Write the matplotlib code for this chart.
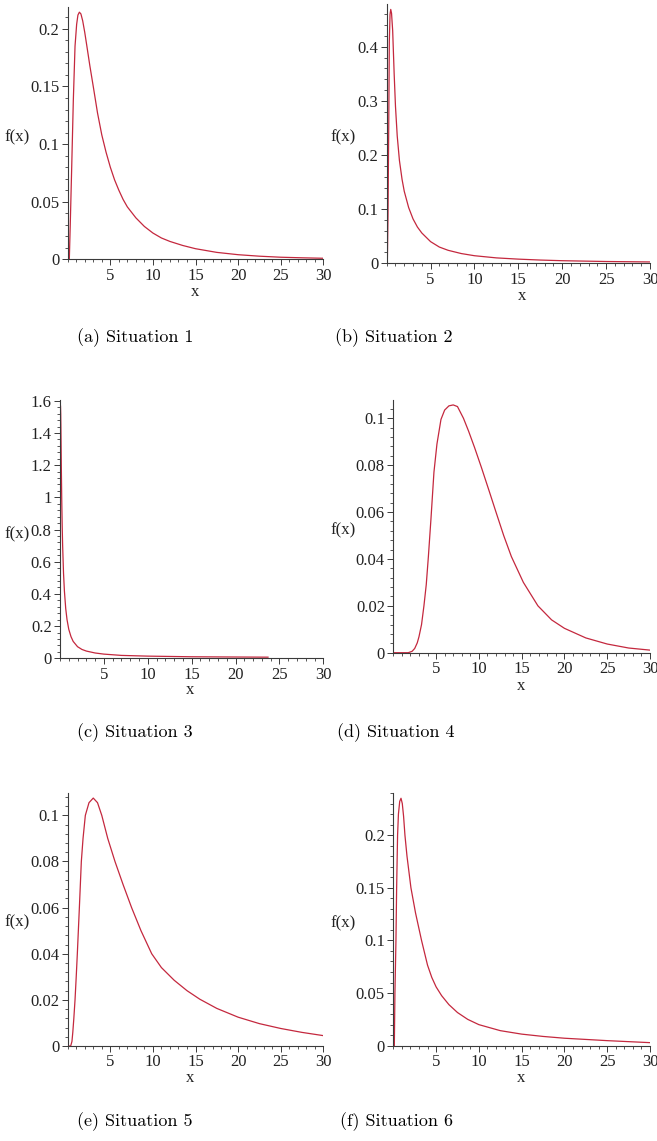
import matplotlib
matplotlib.use("Agg")
import matplotlib.pyplot as plt
from matplotlib.ticker import MultipleLocator

# values (x, f(x))
x1 = [0, 0.19, 0.3, 0.47, 0.66, 0.86, 1.05, 1.2, 1.37, 1.55, 1.76, 2.0, 2.23, 2.6, 3.0, 3.5, 4.0, 4.5, 5.0,
      5.5, 6.0, 6.5, 7.0, 8.0, 9.0, 10, 11, 12, 13.5, 15, 17.5, 20, 22.5, 25, 27.5, 30]
y1 = [0, 0.0, 0.03, 0.080, 0.138, 0.185, 0.204, 0.212, 0.2145, 0.213, 0.207, 0.197, 0.186, 0.168, 0.150,
      0.127, 0.108, 0.093, 0.080, 0.069, 0.060, 0.052, 0.0455, 0.0360, 0.0285, 0.0228, 0.0185, 0.0155, 0.012,
      0.0092, 0.006, 0.0040, 0.0027, 0.0018, 0.0013, 0.0009]

x2 = [0, 0.07, 0.15, 0.23, 0.30, 0.38, 0.46, 0.55, 0.68, 0.85, 1.0, 1.2, 1.45, 1.75, 2.0, 2.5, 3.0, 3.5, 4.0,
      5.0, 6.0, 7.0, 8.5, 10, 12.5, 15, 17.5, 20, 25, 30]
y2 = [0, 0.0, 0.09, 0.25, 0.41, 0.46, 0.469, 0.462, 0.43, 0.35, 0.29, 0.235, 0.19, 0.155, 0.133, 0.103, 0.082,
      0.067, 0.056, 0.040, 0.030, 0.024, 0.018, 0.0140, 0.0100, 0.0077, 0.006, 0.0048, 0.0033, 0.0025]

x3 = [0, 0.02, 0.05, 0.08, 0.1, 0.13, 0.16, 0.2, 0.25, 0.3, 0.4, 0.5, 0.65, 0.8, 1.0, 1.25, 1.5, 2.0, 2.5, 3.0,
      4.0, 5.0, 7.0, 10, 15, 20, 23.7]
y3 = [0, 1.2, 1.57, 1.52, 1.45, 1.3, 1.15, 0.98, 0.82, 0.70, 0.53, 0.42, 0.31, 0.24, 0.18, 0.135, 0.105, 0.072,
      0.055, 0.045, 0.033, 0.026, 0.018, 0.0135, 0.0095, 0.008, 0.007]

x4 = [0, 1.75, 2.2, 2.5, 2.8, 3.0, 3.3, 3.58, 3.85, 4.1, 4.4, 4.75, 5.1, 5.57, 6.0, 6.5, 7.0, 7.5, 8.2, 8.8,
      9.5, 10.3, 11.2, 12.0, 12.9, 13.8, 15.2, 16.9, 18.5, 20, 22.5, 25, 27.5, 30]
y4 = [0, 0, 0.0006, 0.0018, 0.0042, 0.0068, 0.012, 0.020, 0.029, 0.041, 0.057, 0.077, 0.089, 0.0995, 0.1035,
      0.1053, 0.1057, 0.1050, 0.100, 0.0945, 0.0875, 0.079, 0.069, 0.060, 0.050, 0.041, 0.030, 0.020, 0.014,
      0.0104, 0.0063, 0.0037, 0.0020, 0.0011]

x5 = [0, 0.35, 0.5, 0.6, 0.72, 0.86, 1.0, 1.13, 1.37, 1.6, 1.8, 2.07, 2.5, 3.0, 3.5, 4.0, 4.7, 5.55, 6.5, 7.5,
      8.6, 9.86, 11.0, 12.5, 14, 15.5, 17.5, 20, 22.5, 25, 27.5, 30]
y5 = [0, 0, 0.002, 0.006, 0.012, 0.020, 0.030, 0.040, 0.060, 0.080, 0.090, 0.100, 0.1055, 0.1075, 0.1055,
      0.100, 0.090, 0.080, 0.070, 0.060, 0.050, 0.040, 0.034, 0.0285, 0.0240, 0.0203, 0.0163, 0.0125, 0.0097,
      0.0076, 0.0059, 0.0045]

x6 = [0, 0.12, 0.19, 0.31, 0.39, 0.5, 0.6, 0.75, 0.9, 1.05, 1.2, 1.36, 1.6, 2.06, 2.6, 3.3, 4.0, 4.5, 5.0,
      5.65, 6.5, 7.5, 8.7, 10, 12.5, 15, 17.5, 20, 25, 30]
y6 = [0, 0, 0.05, 0.10, 0.15, 0.20, 0.22, 0.232, 0.235, 0.230, 0.218, 0.200, 0.180, 0.150, 0.126, 0.100, 0.0765,
      0.0648, 0.0559, 0.0475, 0.039, 0.0315, 0.025, 0.0200, 0.0143, 0.011, 0.0088, 0.0071, 0.0048, 0.0029]

xticks = [5, 10, 15, 20, 25, 30]
xticklabels = ["5", "10", "15", "20", "25", "30"]
yticks1 = [0, 0.05, 0.1, 0.15, 0.2]
ylabels1 = ["0", "0.05", "0.1", "0.15", "0.2"]
yticks2 = [0, 0.1, 0.2, 0.3, 0.4]
ylabels2 = ["0", "0.1", "0.2", "0.3", "0.4"]
yticks3 = [0, 0.2, 0.4, 0.6, 0.8, 1.0, 1.2, 1.4, 1.6]
ylabels3 = ["0", "0.2", "0.4", "0.6", "0.8", "1", "1.2", "1.4", "1.6"]
yticks4 = [0, 0.02, 0.04, 0.06, 0.08, 0.1]
ylabels4 = ["0", "0.02", "0.04", "0.06", "0.08", "0.1"]
yticks6 = [0, 0.05, 0.1, 0.15, 0.2]
ylabels6 = ["0", "0.05", "0.1", "0.15", "0.2"]
captions = ["(a) Situation 1", "(b) Situation 2", "(c) Situation 3",
            "(d) Situation 4", "(e) Situation 5", "(f) Situation 6"]

W, H = 657, 1141
fig = plt.figure(figsize=(W / 100, H / 100), dpi=100)

LINE = "#c4283e"
AX = "#3a3a3a"
serif = "Liberation Serif"


def panel(box, xs, ys, ytop, yt, yl, yminor, flab, xlab, cap):
    # box = (left, top, right, bottom) in pixels from top-left
    l, t, r, b = box
    ax = fig.add_axes([l / W, 1 - b / H, (r - l) / W, (b - t) / H])
    ax.plot(xs, ys, color=LINE, lw=0.9)
    ax.set_xlim(0, 30)
    ax.set_ylim(0, ytop)
    for s in ["top", "right"]:
        ax.spines[s].set_visible(False)
    for s in ["left", "bottom"]:
        ax.spines[s].set_color(AX)
        ax.spines[s].set_linewidth(0.8)
    ax.set_xticks(xticks)
    ax.set_xticklabels(xticklabels, family=serif, fontsize=12)
    ax.set_yticks(yt)
    ax.set_yticklabels(yl, family=serif, fontsize=12)
    ax.xaxis.set_minor_locator(MultipleLocator(1))
    ax.yaxis.set_minor_locator(MultipleLocator(yminor))
    ax.tick_params(which="major", length=4, width=0.7, color=AX, pad=2, labelcolor="#222222")
    ax.tick_params(which="minor", length=2.2, width=0.6, color=AX)
    ax.patch.set_alpha(0)
    fig.text(flab[0] / W, 1 - flab[1] / H, "f(x)", family=serif, fontsize=12,
             ha="center", va="center", color="#222222")
    fig.text(xlab[0] / W, 1 - xlab[1] / H, "x", family=serif, fontsize=12,
             ha="center", va="center", color="#222222")
    fig.text(cap[0] / W, 1 - cap[1] / H, cap[2], family="cmr10", fontsize=13,
             ha="center", va="center")
    return ax


panel((67.7, 7, 323.3, 259.3), x1, y1, 0.219, yticks1, ylabels1, 0.01,
      (17, 137), (195, 292), (135, 338, captions[0]))
panel((386.7, 4, 650, 263.3), x2, y2, 0.479, yticks2, ylabels2, 0.02,
      (343, 137), (522, 296), (394, 338, captions[1]))
panel((60, 400, 323.3, 658.3), x3, y3, 1.605, yticks3, ylabels3, 0.04,
      (17, 534), (190, 690), (135, 733, captions[2]))
panel((393.3, 400, 650, 652.7), x4, y4, 0.1078, yticks4, ylabels4, 0.004,
      (343, 530), (521, 686), (396, 733, captions[3]))
panel((67.7, 793, 323.3, 1046), x5, y5, 0.1097, yticks4, ylabels4, 0.004,
      (17, 922), (190, 1078), (135, 1122, captions[4]))
panel((393.3, 793, 650, 1045.7), x6, y6, 0.240, yticks6, ylabels6, 0.01,
      (343, 923), (521, 1078), (396, 1122, captions[5]))

fig.savefig("out.png", dpi=100, facecolor="white")
